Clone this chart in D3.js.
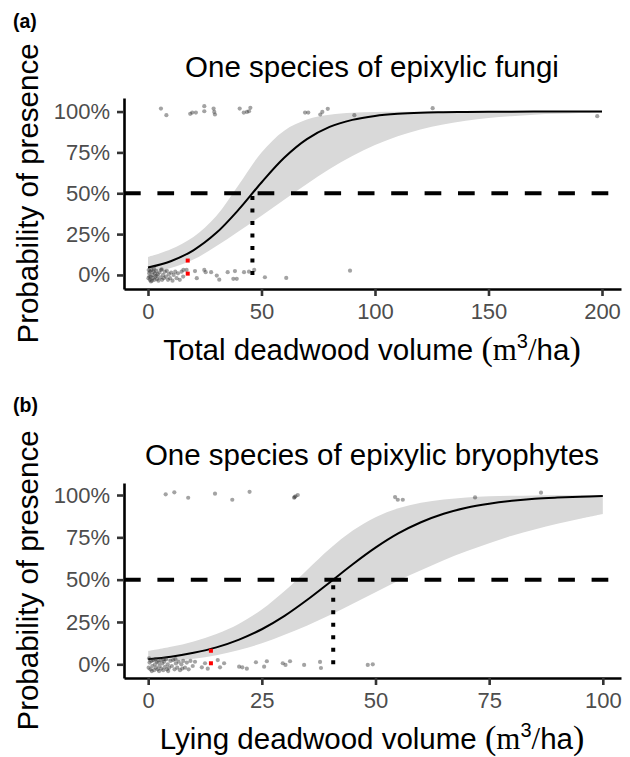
<!DOCTYPE html>
<html>
<head>
<meta charset="utf-8">
<script src="https://cdn.jsdelivr.net/npm/d3@7"></script>
<style>
  html, body { margin: 0; padding: 0; background: #fff; }
  svg { display: block; }
  text { font-family: "Liberation Sans", Arial, Helvetica, sans-serif; }
</style>
</head>
<body>
<svg id="chart" width="630" height="757"></svg>
<script>
// ---------------- DATA ----------------
const yTicks = [0, 0.25, 0.5, 0.75, 1];

// Panel (a): fungi vs total deadwood volume
const aTicksX = [0, 50, 100, 150, 200];
const aCurveX = [0,10,20,30,40,50,60,70,80,90,100,110,120,130,140,150,160,170,180,190,200];
const aFit    = [0.045,0.084,0.151,0.256,0.401,0.566,0.717,0.831,0.906,0.949,0.973,0.986,0.993,0.996,0.998,0.999,0.9995,0.9997,0.9999,0.9999,1.0];
const aLower  = [0.018,0.042,0.094,0.175,0.267,0.363,0.461,0.557,0.648,0.728,0.795,0.849,0.890,0.921,0.944,0.960,0.972,0.981,0.986,0.991,0.993];
const aUpper  = [0.110,0.158,0.233,0.360,0.552,0.749,0.883,0.951,0.980,0.992,0.997,0.999,0.9996,0.9998,0.9999,1,1,1,1,1,1];
const aThreshold = 46;
const aRed = [[17.5, 0.088], [17.5, 0.008]];
const aPresent = [[5.7,1.018],[8.1,0.978],[18.6,0.986],[19.5,0.994],[21.1,0.994],[24.8,1.033],[24.8,1.002],
  [28.9,1.018],[29.2,0.998],[29.5,0.982],[40.4,1.018],[42.2,0.994],[43.6,0.998],[45.1,1.023],[44.5,1.002],
  [69.2,0.994],[70.6,0.994],[75.9,0.982],[76.8,0.998],[79.2,1.017],[90.9,0.978],[125.4,1.021],[197.9,0.972]];
const aAbsent = [[0.2,-0.02],[0.5,0.01],[0.8,-0.03],[1.0,0.02],[1.2,-0.01],[1.5,0.03],[1.7,-0.035],[2.0,0.0],
  [2.2,-0.02],[2.5,0.02],[2.8,-0.03],[3.0,0.01],[3.3,-0.01],[3.6,0.025],[4.0,-0.025],[4.3,0.005],[4.6,-0.035],
  [5.0,0.015],[5.4,-0.015],[5.8,0.03],[6.2,-0.03],[6.6,0.0],[7.0,-0.02],[7.4,0.02],[7.9,-0.01],[8.3,0.025],
  [8.8,-0.03],[9.2,0.005],[9.7,-0.02],[10.2,0.015],[10.8,-0.035],[11.3,0.0],[12.0,0.02],[12.6,-0.02],[13.2,0.01],
  [14.0,-0.03],[14.8,0.02],[15.5,-0.01],[0.3,0.03],[1.3,-0.04],[2.6,0.04],[3.8,-0.005],[6.0,0.035],[0.6,-0.01],
  [15.6,0.031],[17.0,0.031],[20.7,0.024],[21.5,-0.020],[24.8,0.031],[25.4,0.017],[27.8,0.017],[30.3,-0.004],
  [31.4,-0.029],[35.1,0.017],[38.3,0.024],[37.6,-0.024],[39.1,-0.024],[42.3,0.017],[44.5,0.020],[46.8,0.031],
  [51.5,-0.014],[60.9,-0.018],[89.0,0.026]];

// Panel (b): bryophytes vs lying deadwood volume
const bTicksX = [0, 25, 50, 75, 100];
const bCurveX = [0,5,10,15,20,25,30,35,40,45,50,55,60,65,70,75,80,85,90,95,100];
const bFit    = [0.030,0.045,0.068,0.100,0.146,0.207,0.286,0.381,0.485,0.591,0.689,0.773,0.839,0.889,0.925,0.949,0.966,0.978,0.985,0.990,0.994];
const bLower  = [0.011,0.019,0.033,0.054,0.084,0.124,0.174,0.229,0.291,0.357,0.425,0.494,0.555,0.615,0.668,0.715,0.760,0.797,0.830,0.860,0.888];
const bUpper  = [0.078,0.103,0.135,0.179,0.240,0.324,0.433,0.559,0.684,0.790,0.869,0.922,0.955,0.974,0.986,0.992,0.9955,0.9975,0.9986,0.9992,0.9996];
const bThreshold = 40.7;
const bRed = [[13.8, 0.080], [13.8, 0.006]];
const bPresent = [[3.85,1.004],[5.75,1.016],[8.8,0.984],[14.7,1.008],[18.5,0.972],[22.3,1.019],[32.1,0.984],
  [32.2,0.988],[32.4,0.992],[32.9,1.0],[54.3,0.988],[54.9,0.972],[56.0,0.972],[71.9,0.986],[86.4,1.014]];
const bAbsent = [[0.1,-0.02],[0.3,0.01],[0.5,-0.03],[0.7,0.02],[0.9,-0.01],[1.1,0.025],[1.3,-0.035],[1.5,0.0],
  [1.7,-0.02],[1.9,0.015],[2.1,-0.03],[2.3,0.01],[2.5,-0.01],[2.7,0.025],[2.9,-0.025],[3.1,0.005],[3.3,-0.035],
  [3.5,0.015],[3.7,-0.015],[3.9,0.03],[4.1,-0.03],[4.3,0.0],[4.6,-0.02],[4.9,0.02],[5.2,-0.01],[5.5,0.025],
  [5.8,-0.03],[6.1,0.005],[6.4,-0.02],[6.7,0.015],[7.0,-0.035],[7.3,0.0],[7.7,0.02],[8.1,-0.02],[8.5,0.01],
  [8.9,-0.03],[9.3,0.02],[9.8,-0.01],[10.3,0.015],[0.2,0.035],[0.8,-0.04],[1.6,0.03],[2.4,-0.04],[3.4,0.03],
  [4.4,-0.04],[6.0,0.03],[7.5,-0.025],
  [11.8,-0.018],[12.5,0.006],[13.1,-0.026],[15.3,0.025],[15.8,-0.018],[16.7,0.006],[20.0,-0.014],[20.7,-0.018],
  [21.7,-0.026],[23.7,0.012],[25.5,-0.014],[26.1,0.018],[29.6,0.006],[30.2,-0.004],[31.2,0.018],[34.3,-0.004],
  [37.8,0.014],[38.0,-0.022],[48.3,-0.004],[49.4,0.0]];

// ---------------- DRAW ----------------
const svg = d3.select("#chart");

function panel(cfg) {
  const g = svg.append("g");
  const x = d3.scaleLinear().domain(cfg.xDomain).range([124, 621]);
  const y = d3.scaleLinear().domain(cfg.yDomain).range([cfg.bottom, cfg.top]);

  const ribbon = cfg.curveX.map((v, i) => ({x: v, lo: cfg.lower[i], hi: cfg.upper[i], f: cfg.fit[i]}));
  g.append("path")
    .datum(ribbon)
    .attr("fill", "#d9d9d9")
    .attr("d", d3.area().curve(d3.curveCatmullRom.alpha(0.5))
      .x(d => x(d.x)).y0(d => y(d.lo)).y1(d => y(d.hi)));

  g.append("line")
    .attr("x1", 124).attr("x2", 621)
    .attr("y1", y(0.5)).attr("y2", y(0.5))
    .attr("stroke", "#000").attr("stroke-width", 4)
    .attr("stroke-dasharray", "16.7,16.7");

  g.append("path")
    .datum(ribbon)
    .attr("fill", "none").attr("stroke", "#000").attr("stroke-width", 2)
    .attr("d", d3.line().curve(d3.curveCatmullRom.alpha(0.5)).x(d => x(d.x)).y(d => y(d.f)));

  g.append("g").selectAll("circle")
    .data(cfg.absent.concat(cfg.present))
    .join("circle")
    .attr("cx", d => x(d[0])).attr("cy", d => y(d[1]))
    .attr("r", 2.1)
    .attr("fill", "#333").attr("fill-opacity", 0.45);

  g.append("line")
    .attr("x1", x(cfg.threshold)).attr("x2", x(cfg.threshold))
    .attr("y1", y(0)).attr("y2", y(0.5))
    .attr("stroke", "#000").attr("stroke-width", 4)
    .attr("stroke-dasharray", "4,8.5");

  g.append("g").selectAll("rect")
    .data(cfg.red)
    .join("rect")
    .attr("x", d => x(d[0]) - 2).attr("y", d => y(d[1]) - 2)
    .attr("width", 4).attr("height", 4)
    .attr("fill", "#ff0000");

  const ax = g.append("g").attr("transform", `translate(0,${cfg.bottom})`)
    .call(d3.axisBottom(x).tickValues(cfg.ticksX).tickSize(7).tickSizeOuter(0).tickPadding(7));
  const ay = g.append("g").attr("transform", `translate(124,0)`)
    .call(d3.axisLeft(y).tickValues(yTicks).tickFormat(d3.format(".0%")).tickSize(7).tickSizeOuter(0).tickPadding(7));
  [ax, ay].forEach(a => {
    a.select(".domain").attr("stroke", "#000").attr("stroke-width", 2.6);
    a.selectAll(".tick line").attr("stroke", "#333").attr("stroke-width", 2.6);
    a.selectAll(".tick text").attr("fill", "#4d4d4d").style("font-size", "22px")
      .style("font-family", "'Liberation Sans', Arial, sans-serif");
  });

  svg.append("text").attr("x", 13).attr("y", cfg.tagY)
    .style("font-size", "19.5px").style("font-weight", "bold").text(cfg.tag);

  svg.append("text").attr("x", 372).attr("y", cfg.titleY)
    .attr("text-anchor", "middle").style("font-size", "29.5px").text(cfg.title);

  svg.append("text")
    .attr("transform", `translate(38,${(cfg.top + cfg.bottom) / 2}) rotate(-90)`)
    .attr("text-anchor", "middle").style("font-size", "29.5px").text("Probability of presence");

  const xt = svg.append("text").attr("x", 372).attr("y", cfg.xTitleY)
    .attr("text-anchor", "middle").style("font-size", "29.5px");
  xt.append("tspan").text(cfg.xTitle + " ");
  xt.append("tspan").style("font-size", "34px").style("font-family", "'Liberation Serif', serif").text("(");
  xt.append("tspan").style("font-family", "'Liberation Serif', serif").style("font-size", "31px").text("m");
  xt.append("tspan").attr("dy", -12).style("font-size", "20px").text("3");
  xt.append("tspan").attr("dy", 12).style("font-family", "'Liberation Serif', serif").style("font-size", "31px").text("/");
  xt.append("tspan").text("ha");
  xt.append("tspan").style("font-size", "34px").style("font-family", "'Liberation Serif', serif").text(")");
}

panel({
  tag: "(a)", tagY: 28, title: "One species of epixylic fungi", titleY: 77,
  xTitle: "Total deadwood volume", xTitleY: 360,
  xDomain: [-10.57, 208.37], yDomain: [-0.086, 1.083], top: 98, bottom: 289,
  ticksX: aTicksX, curveX: aCurveX, fit: aFit, lower: aLower, upper: aUpper,
  threshold: aThreshold, red: aRed, present: aPresent, absent: aAbsent
});

panel({
  tag: "(b)", tagY: 412, title: "One species of epixylic bryophytes", titleY: 465,
  xTitle: "Lying deadwood volume", xTitleY: 749,
  xDomain: [-5.32, 104.0], yDomain: [-0.081, 1.071], top: 483, bottom: 678,
  ticksX: bTicksX, curveX: bCurveX, fit: bFit, lower: bLower, upper: bUpper,
  threshold: bThreshold, red: bRed, present: bPresent, absent: bAbsent
});
</script>
</body>
</html>
